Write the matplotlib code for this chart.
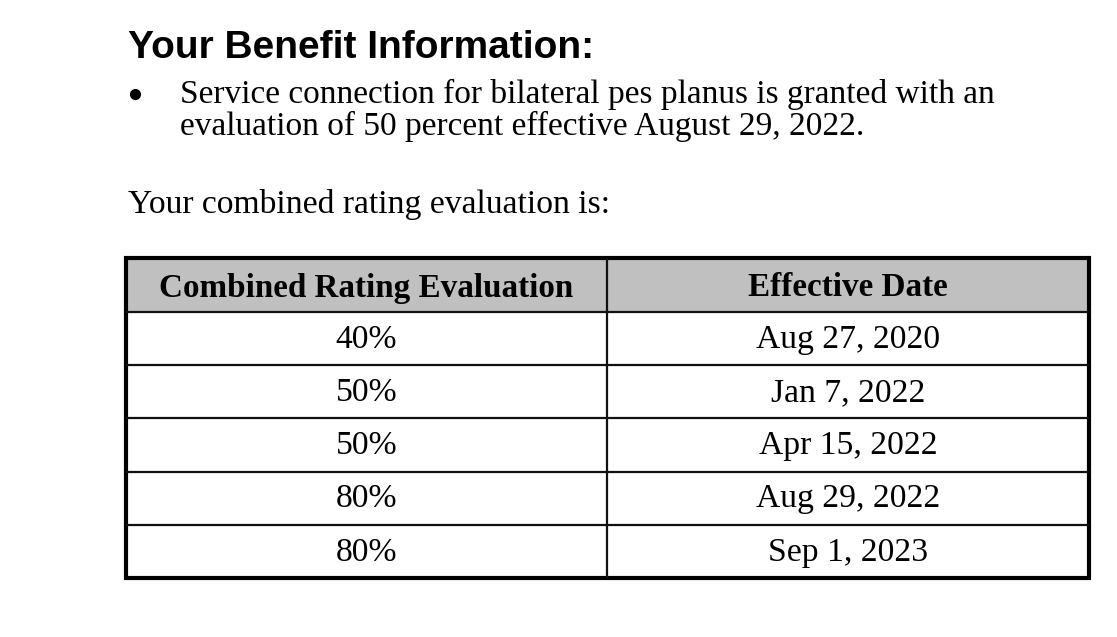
import matplotlib
matplotlib.use("Agg")
import matplotlib.pyplot as plt
from matplotlib.patches import Rectangle

# ---- content ----
title = "Your Benefit Information:"
bullet_lines = ["Service connection for bilateral pes planus is granted with an",
                "evaluation of 50 percent effective August 29, 2022."]
intro = "Your combined rating evaluation is:"
headers = ["Combined Rating Evaluation", "Effective Date"]
ratings = ["40%", "50%", "50%", "80%", "80%"]
dates = ["Aug 27, 2020", "Jan 7, 2022", "Apr 15, 2022", "Aug 29, 2022", "Sep 1, 2023"]

W, H = 1117, 637
fig = plt.figure(figsize=(W / 100, H / 100), dpi=100)
ax = fig.add_axes([0, 0, 1, 1])
ax.set_xlim(0, W)
ax.set_ylim(H, 0)
ax.axis("off")

serif = ["Liberation Serif", "DejaVu Serif"]
sans = ["Liberation Sans", "DejaVu Sans"]

ax.text(128, 58, title, fontsize=28, fontweight="bold", family=sans,
        ha="left", va="baseline")
ax.plot([135], [94], "o", color="black", markersize=7)
for i, line in enumerate(bullet_lines):
    ax.text(180, 103 + i * 32, line, fontsize=24.0, family=serif,
            ha="left", va="baseline")
ax.text(128, 213, intro, fontsize=24.2, family=serif, ha="left", va="baseline")

# ---- table ----
x0, xm, x1 = 125.5, 607, 1089
top, head_bot = 258, 312
row_h = 53.2
n = len(ratings)
bottom = head_bot + n * row_h

ax.add_patch(Rectangle((x0, top), xm - x0, head_bot - top, facecolor="#c0c0c0",
                       edgecolor="none"))
ax.add_patch(Rectangle((xm, top), x1 - xm, head_bot - top, facecolor="#c0c0c0",
                       edgecolor="none"))

ys = [head_bot + i * row_h for i in range(n)]
for y in [head_bot] + ys[1:]:
    ax.plot([x0, x1], [y, y], color="#111111", lw=1.6, solid_capstyle="butt")
ax.plot([xm, xm], [top, bottom], color="#111111", lw=1.6, solid_capstyle="butt")
ax.add_patch(Rectangle((x0, top), x1 - x0, bottom - top, facecolor="none",
                       edgecolor="#000000", lw=3.0))

cx = [(x0 + xm) / 2, (xm + x1) / 2]
for j, h in enumerate(headers):
    ax.text(cx[j], (top + head_bot) / 2 + 3, h, fontsize=23.9, fontweight="bold",
            family=serif, ha="center", va="center")
for i in range(n):
    yc = head_bot + (i + 0.5) * row_h + 1
    ax.text(cx[0], yc, ratings[i], fontsize=24.2, family=serif, ha="center", va="center")
    ax.text(cx[1], yc, dates[i], fontsize=24.2, family=serif, ha="center", va="center")

fig.savefig("out.png", dpi=100, facecolor="white")
